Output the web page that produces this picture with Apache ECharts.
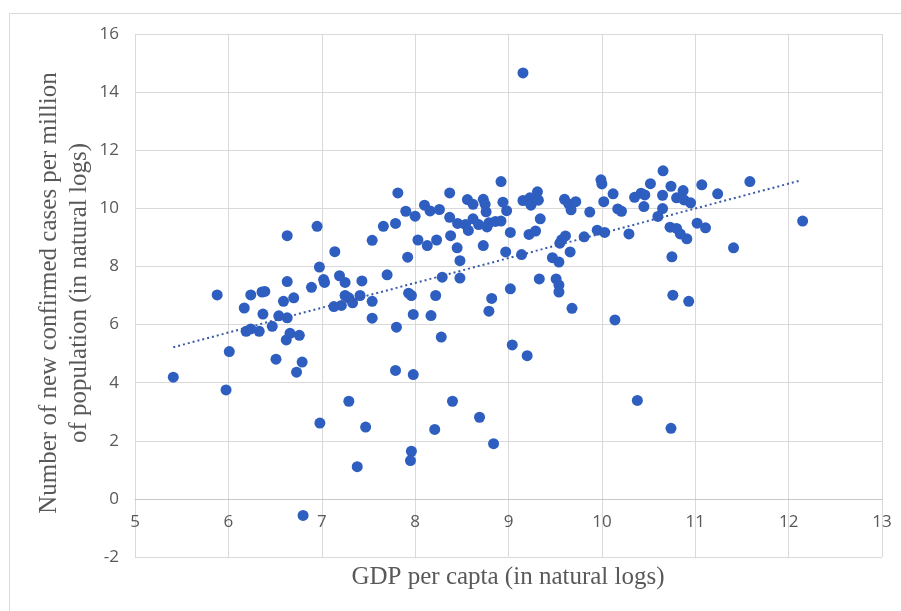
<!DOCTYPE html>
<html>
<head>
<meta charset="utf-8">
<title>GDP per capita vs new confirmed cases</title>
<script src="https://cdn.jsdelivr.net/npm/echarts@6/dist/echarts.min.js"></script>
<style>
  html, body { margin: 0; padding: 0; background: #ffffff; }
  #chart { width: 901px; height: 611px; }
</style>
</head>
<body>
<div id="chart"></div>
<script>
// GDP per capita (natural logs), one entry per country
const gdpLog = [
  5.41, 5.88, 5.975, 6.01, 6.17, 6.19, 6.24, 6.24, 6.33, 6.36, 6.39, 6.37, 6.47,
  6.51, 6.54, 6.59, 6.63, 6.62, 6.66, 6.76, 6.63, 6.63, 6.70, 6.73, 6.79, 6.80, 6.89, 6.95, 6.975, 6.98,
  7.02, 7.03, 7.13, 7.14, 7.19, 7.21, 7.25, 7.25, 7.29, 7.33, 7.29, 7.38, 7.41, 7.43, 7.47,
  7.54, 7.54, 7.54, 7.66, 7.70, 7.79, 7.815, 7.79, 7.80, 7.90, 7.92, 7.93, 7.96, 7.98, 7.98, 7.96, 7.95, 8.00,
  8.03, 8.10, 8.13, 8.16, 8.17, 8.21, 8.22, 8.23, 8.26, 8.28, 8.29, 8.37, 8.37, 8.38, 8.40, 8.45, 8.455, 8.48, 8.48,
  8.54, 8.57, 8.56, 8.62, 8.62, 8.68, 8.69, 8.73, 8.75, 8.76, 8.73, 8.77, 8.79, 8.79, 8.82, 8.84, 8.86, 8.92, 8.92, 8.94, 8.98, 8.97,
  9.02, 9.02, 9.04, 9.14, 9.155, 9.155, 9.20, 9.22, 9.23, 9.24, 9.29, 9.31, 9.32, 9.34, 9.33, 9.47, 9.51, 9.54, 9.54, 9.54,
  9.55, 9.57, 9.61, 9.60, 9.645, 9.67, 9.72, 9.66, 9.68, 9.81, 9.87, 9.95, 9.99, 10.0,
  10.03, 10.02, 10.12, 10.14, 10.17, 10.21, 10.29, 10.35, 10.38, 10.42, 10.46, 10.45,
  10.52, 10.60, 10.65, 10.65, 10.655, 10.73, 10.74, 10.75, 10.74, 10.76, 10.80, 10.80, 10.84, 10.87, 10.88, 10.91, 10.93, 10.95,
  11.02, 11.07, 11.11, 11.24, 11.41, 11.585, 12.15
];

// New confirmed cases per million population (natural logs), same order
const casesLog = [
  4.19, 7.02, 3.75, 5.07, 6.57, 5.77, 5.85, 7.02, 5.77, 7.12, 7.14, 6.36, 5.94,
  4.81, 6.30, 6.80, 6.23, 5.47, 5.70, 5.63, 7.48, 9.06, 6.92, 4.36, 4.71, -0.57, 7.28, 9.38, 7.98, 2.61,
  7.55, 7.45, 6.62, 8.51, 7.68, 6.66, 7.45, 7.00, 6.92, 6.75, 3.36, 1.11, 7.00, 7.50, 2.47,
  8.90, 6.80, 6.22, 9.38, 7.71, 9.48, 10.53, 4.42, 5.91, 9.90, 8.32, 7.08, 7.00, 6.35, 4.28, 1.64, 1.32, 9.73,
  8.91, 10.11, 8.72, 9.91, 6.31, 2.39, 7.00, 8.91, 9.96, 5.57, 7.63, 10.53, 9.69, 9.06, 3.36, 8.64, 9.48, 8.20, 7.60,
  9.44, 9.24, 10.30, 10.14, 9.64, 9.44, 2.81, 10.31, 10.14, 9.88, 8.72, 9.36, 9.50, 6.46, 6.90, 1.90, 9.55, 9.56, 10.92, 10.21, 9.92, 8.50,
  9.17, 7.23, 5.30, 8.41, 14.66, 10.27, 4.93, 9.10, 10.36, 10.11, 9.22, 10.57, 10.28, 9.64, 7.57, 8.30, 7.57, 8.15, 7.36, 7.12,
  8.80, 8.92, 9.05, 10.31, 10.15, 9.95, 10.23, 8.50, 6.56, 9.02, 9.87, 9.25, 10.98, 10.84,
  9.17, 10.23, 10.50, 6.16, 9.98, 9.90, 9.12, 10.38, 3.39, 10.52, 10.46, 10.06,
  10.85, 9.72, 9.99, 10.45, 11.29, 9.35, 10.76, 8.33, 2.43, 7.01, 9.31, 10.36, 9.12, 10.61, 10.29, 8.95, 6.80, 10.19,
  9.49, 10.81, 9.33, 10.50, 8.64, 10.92, 9.56
];

// Linear trendline end points [gdp, cases]
const trendStart = [5.41, 5.22];
const trendEnd = [12.13, 10.96];

// Axis tick settings
const xTicks = { min: 5, max: 13, step: 1 };
const yTicks = { min: -2, max: 16, step: 2 };

const points = gdpLog.map((g, i) => [g, casesLog[i]]);

const gridTop = 34;
const gridBottom = 54;
const chartHeight = 611;
const plotHeight = chartHeight - gridTop - gridBottom;
// the horizontal axis crosses the vertical one at cases = 0
const zeroOffset = plotHeight * (0 - yTicks.min) / (yTicks.max - yTicks.min);

const gridColor = '#d9d9d9';
const labelColor = '#595959';
const tickFont = { color: labelColor, fontSize: 17, fontFamily: 'Open Sans, Liberation Sans, sans-serif' };
const titleFont = 'Liberation Serif, Times New Roman, serif';

const chart = echarts.init(document.getElementById('chart'), null, { renderer: 'canvas' });

chart.setOption({
  animation: false,
  backgroundColor: '#ffffff',
  grid: { left: 135, right: 19, top: gridTop, bottom: gridBottom, containLabel: false },
  xAxis: {
    type: 'value',
    position: 'bottom',
    offset: -zeroOffset,
    min: xTicks.min,
    max: xTicks.max,
    interval: xTicks.step,
    axisLine: { show: true, onZero: false, lineStyle: { color: '#c8c8c8', width: 1 } },
    axisTick: { show: false },
    axisLabel: Object.assign({ margin: 15 }, tickFont),
    splitLine: { show: true, lineStyle: { color: gridColor, width: 1 } }
  },
  yAxis: {
    type: 'value',
    min: yTicks.min,
    max: yTicks.max,
    interval: yTicks.step,
    axisLine: { show: false },
    axisTick: { show: false },
    axisLabel: Object.assign({ margin: 16 }, tickFont),
    splitLine: { show: true, lineStyle: { color: gridColor, width: 1 } }
  },
  graphic: [
    {
      type: 'rect',
      left: 7, top: 11,
      shape: { width: 920, height: 620 },
      style: { fill: 'none', stroke: '#d9d9d9', lineWidth: 1 },
      silent: true, z: -1
    },
    {
      type: 'text',
      x: 64, y: 293,
      rotation: Math.PI / 2,
      style: {
        text: 'Number of new confirmed cases per million\nof population (in natural logs)',
        fill: labelColor,
        font: '25px ' + titleFont,
        align: 'center',
        verticalAlign: 'middle',
        lineHeight: 30
      }
    },
    {
      type: 'text',
      x: 508, y: 577,
      style: {
        text: 'GDP per capta (in natural logs)',
        fill: labelColor,
        font: '25px ' + titleFont,
        align: 'center',
        verticalAlign: 'middle'
      }
    }
  ],
  series: [
    {
      name: 'Countries',
      type: 'scatter',
      data: points,
      symbol: 'circle',
      symbolSize: 11,
      itemStyle: { color: '#2e5ebf', opacity: 1 },
      z: 2
    },
    {
      name: 'Linear trend',
      type: 'line',
      data: [trendStart, trendEnd],
      symbol: 'none',
      lineStyle: { color: '#3a5aa8', width: 2, type: [2, 3] },
      z: 3
    }
  ]
});
</script>
</body>
</html>
